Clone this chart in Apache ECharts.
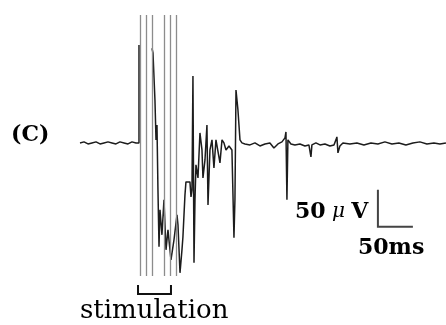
<!DOCTYPE html>
<html>
<head>
<meta charset="utf-8">
<script src="https://cdn.jsdelivr.net/npm/echarts@6/dist/echarts.min.js"></script>
<style>
html, body { margin: 0; padding: 0; background: #fff; }
#chart { width: 446px; height: 325px; }
</style>
</head>
<body>
<div id="chart"></div>
<script>
// 记录波形：时间 (ms) 与电压 (µV)，null 为被刺激伪迹遮住的部分
var timeMs = [
  0, 5.7, 11.4, 17.1, 22.9, 28.6, 34.3, 40, 45.7, 51.4, 57.1, 62.9, 68.6, 74.3, 80,
  84.3, 84.3, 85.7, 102.9, 104.3, 107.1, 108.6, 110, 111.4, 112.9, 114.3, 117.1,
  120, 122.9, 125.7, 130, 134.3, 138.6, 140, 142.9, 145.7, 147.1, 148.6, 150, 151.4,
  157.1, 158.6, 160, 161.4, 162.9, 164.3, 165.7, 168.6, 171.4, 174.3, 175.7, 178.6,
  181.4, 182.9, 185.7, 188.6, 191.4, 194.3, 197.1, 200, 202.9, 205.7, 208.6, 212.9,
  217.1, 220, 221.4, 222.9, 224.3, 225.7, 228.6, 231.4, 235.7, 242.9, 250, 257.1,
  264.3, 271.4, 277.1, 282.9, 288.6, 292.9, 294.3, 295.7, 297.1, 301.4, 307.1, 314.3,
  321.4, 327.1, 330, 331.4, 337.1, 342.9, 350, 357.1, 362.9, 365.7, 367.1, 368.6,
  371.4, 375.7, 385.7, 395.7, 405.7, 415.7, 425.7, 435.7, 445.7, 455.7, 465.7, 475.7,
  485.7, 495.7, 505.7, 514.3, 522.9
];
var voltUv = [
  0, 1.4, -1.4, 0, 1.4, -1.4, 0, 1.4, 0, -1.4, 1.4, 0, -1.4, 1.4, 0,
  0, 132.4, null, 128, 121.6, 58.1, 4.1, 24.3, -63.5, -140.5, -90.5, -124.3,
  -77, -144.6, -117.6, -158.1, -131.1, -97.3, -110.8, -175.7, -144.6, -127, -97.3, -70.3, -52.7,
  -52.7, -73, -63.5, 90.5, -162.2, -77, -29.7, -47.3, 13.5, -9.5, -47.3, -23,
  24.3, -83.8, -9.5, 4.1, -33.8, 4.1, 6.8, -27, 4.1, 0, -9.5, -4.1,
  -9.5, -128.4, -77, 71.6, 68.9, 44.6, 4.1, 0, -1.4, -2.7, 0, -4.1,
  -1.4, 0, -6.8, -1.4, 1.4, 6.8, 14.9, -77, 4.1, -1.4, -2.7, -1.4,
  -4.1, -2.7, -18.9, -2.7, 0, -2.7, -1.4, -4.1, -2.7, 4.1, 8.1, -13.5,
  -4.1, 0, -1.4, 0, -2.7, 0, -1.4, 1.4, -1.4, 0, -2.7, 0,
  1.4, -1.4, 0, -1.4, 0
];
// 刺激伪迹时刻 (ms)
var stimTimes = [85.7, 94.3, 102.9, 120, 128.6, 137.1];
var stimSpan = [82.9, 130];
// 标尺
var barCorner = [425.7, -113.5];
var barMs = 50;
var barUv = 50;

var chart = echarts.init(document.getElementById('chart'));

var trace = timeMs.map(function (t, i) {
  return voltUv[i] === null ? [t, '-'] : [t, voltUv[i]];
});

var option = {
  animation: false,
  grid: { left: 80, right: 0, top: 15, bottom: 49 },
  xAxis: { type: 'value', min: 0, max: 523, show: false },
  yAxis: { type: 'value', min: -180, max: 173, show: false },
  series: [
    {
      type: 'line',
      data: trace,
      showSymbol: false,
      connectNulls: false,
      lineStyle: { color: '#1c1c1c', width: 1.5 },
      markLine: {
        silent: true,
        symbol: 'none',
        label: { show: false },
        lineStyle: { color: '#8c8c8c', width: 1.3, type: 'solid' },
        data: stimTimes.map(function (t) { return { xAxis: t }; })
      },
      z: 3
    }
  ]
};
chart.setOption(option);

// 标尺和刺激括号的位置由数据坐标换算
var p0 = chart.convertToPixel({ gridIndex: 0 }, barCorner);
var pTop = chart.convertToPixel({ gridIndex: 0 }, [barCorner[0], barCorner[1] + barUv]);
var pRight = chart.convertToPixel({ gridIndex: 0 }, [barCorner[0] + barMs, barCorner[1]]);
var s0 = chart.convertToPixel({ gridIndex: 0 }, [stimSpan[0], 0])[0];
var s1 = chart.convertToPixel({ gridIndex: 0 }, [stimSpan[1], 0])[0];

var serif = '"DejaVu Serif", "Liberation Serif", serif';

chart.setOption({
  graphic: [
    {
      type: 'polyline',
      shape: { points: [[pTop[0], pTop[1]], [p0[0], p0[1]], [pRight[0], pRight[1]]] },
      style: { stroke: '#444', lineWidth: 2, fill: null }
    },
    {
      type: 'polyline',
      shape: { points: [[s0, 285], [s0, 294], [s1, 294], [s1, 285]] },
      style: { stroke: '#111', lineWidth: 2, fill: null }
    },
    {
      type: 'text',
      style: { text: '(C)', x: 11, y: 135, font: 'bold 22px ' + serif, fill: '#000', verticalAlign: 'middle' }
    },
    {
      type: 'text',
      style: { text: 'stimulation', x: 80, y: 311, font: '26px ' + serif, fill: '#000', verticalAlign: 'middle' }
    },
    {
      type: 'text',
      style: {
        text: '{b|50}{m| μ }{b|V}', x: 295, y: 212, verticalAlign: 'middle',
        rich: {
          b: { fontFamily: serif, fontWeight: 'bold', fontSize: 22, fill: '#000' },
          m: { fontFamily: serif, fontStyle: 'italic', fontSize: 20, fill: '#000' }
        }
      }
    },
    {
      type: 'text',
      style: { text: '50ms', x: 358, y: 248, font: 'bold 22px ' + serif, fill: '#000', verticalAlign: 'middle' }
    }
  ]
});
</script>
</body>
</html>
